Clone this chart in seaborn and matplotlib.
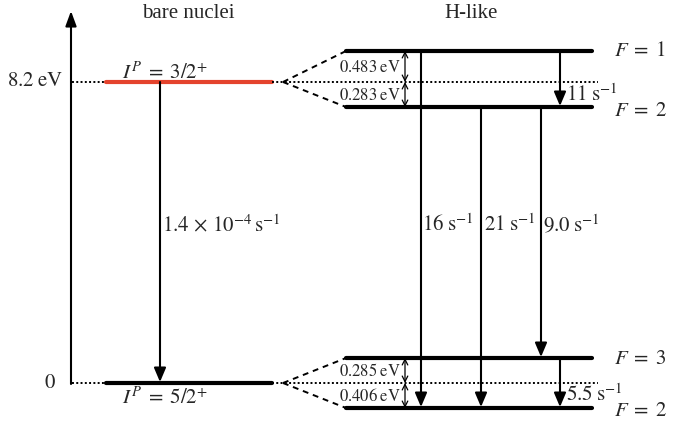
import matplotlib
matplotlib.use("Agg")
import matplotlib.pyplot as plt
import seaborn as sns
import pandas as pd

# ---- physics content -------------------------------------------------------
bare_spins = [r"$I^P\;=\;3/2^{+}$", r"$I^P\;=\;5/2^{+}$"]
bare_energy_labels = [r"$8.2\;\mathrm{eV}$", r"$0$"]
bare_rate_label = r"$1.4\,\times\,10^{-4}\,\mathrm{s}^{-1}$"

hfs_F = [1, 2, 3, 2]                       # upper pair, lower pair
hfs_splitting = ["0.483", "0.283", "0.285", "0.406"]   # eV

# transitions between hyperfine levels: (from index, to index, rate in s^-1)
trans_from = [0, 1, 1, 0, 2]
trans_to = [3, 3, 2, 1, 3]
trans_rate = ["16", "21", "9.0", "11", "5.5"]

# ---- layout (drawing coordinates) -----------------------------------------
W, H = 697, 421
bare_y = [82, 383]                  # centroid rows (excited, ground)
hfs_y = [51, 107, 358, 408]         # F levels
bare_x = (106, 272)
hfs_x = (346, 592)
trans_x = [421, 481, 541, 560, 560]
rate_pos = [(422, 225), (484, 225), (543, 225), (566, 95), (566, 395)]

sns.set_theme(style="white")
plt.rcParams["font.family"] = ["Liberation Serif", "DejaVu Serif"]
plt.rcParams["mathtext.fontset"] = "stix"

fig = plt.figure(figsize=(W / 100, H / 100), dpi=100)
ax = fig.add_axes([0, 0, 1, 1])

# energy level bars
rows = []
for i, y in enumerate(bare_y):
    kind = "excited" if i == 0 else "ground"
    for x in bare_x:
        rows.append(dict(level=f"bare{i}", kind=kind, x=x, y=y))
for i, y in enumerate(hfs_y):
    for x in hfs_x:
        rows.append(dict(level=f"hfs{i}", kind="ground", x=x, y=y))
levels = pd.DataFrame(rows)
sns.lineplot(data=levels, x="x", y="y", units="level", hue="kind",
             palette={"excited": "#e4432d", "ground": "black"},
             estimator=None, sort=False, lw=3.0, legend=False, ax=ax)
ax.set_xlim(0, W)
ax.set_ylim(H, 0)
ax.axis("off")

FS = 15
FS_SMALL = 12

ARROW = dict(arrowstyle="-|>,head_length=0.85,head_width=0.36",
             lw=1.5, color="black", shrinkA=0, shrinkB=0, mutation_scale=10)

# vertical energy axis
ax.annotate("", xy=(71, 11), xytext=(71, 384),
            arrowprops=dict(ARROW, arrowstyle="-|>,head_length=0.9,head_width=0.33"))
ax.text(188, 13, "bare nuclei", fontsize=FS, ha="center", va="center")
ax.text(471, 13, "H-like", fontsize=FS, ha="center", va="center")

# bare-nucleus levels
for y, elab, xr in zip(bare_y, bare_energy_labels, (63, 56)):
    ax.plot([72, bare_x[0]], [y, y], ls=(0, (1, 1.2)), lw=1.4, color="black")
    ax.text(xr, y, elab, fontsize=FS, ha="right", va="center")
ax.text(165, 79, bare_spins[0], fontsize=FS, ha="center", va="baseline")
ax.text(165, 398, bare_spins[1], fontsize=FS, ha="center", va="center")

ax.annotate("", xy=(160, bare_y[1] - 1), xytext=(160, bare_y[0]),
            arrowprops=ARROW)
ax.text(162, 226, bare_rate_label, fontsize=FS, ha="left", va="center")

# hyperfine splitting: dotted centroid lines and dashed fan-out
for yc, (ya, yb) in zip(bare_y, [(hfs_y[0], hfs_y[1]), (hfs_y[2], hfs_y[3])]):
    ax.plot([bare_x[1], 598], [yc, yc], ls=(0, (1, 1.2)), lw=1.4, color="black")
    for yt in (ya, yb):
        ax.plot([283, hfs_x[0]], [yc, yt], ls=(0, (3, 2.5)), lw=1.4,
                color="black")

# splitting size markers
pairs = [(hfs_y[0], bare_y[0]), (bare_y[0], hfs_y[1]),
         (hfs_y[2], bare_y[1]), (bare_y[1], hfs_y[3])]
for (y0, y1), lab in zip(pairs, hfs_splitting):
    ax.annotate("", xy=(405, y1), xytext=(405, y0),
                arrowprops=dict(arrowstyle="<->,head_length=0.4,head_width=0.2",
                                lw=0.9, color="black", shrinkA=0, shrinkB=0,
                                mutation_scale=10))
    ax.text(401, (y0 + y1) / 2 + 1, rf"${lab}\;\mathrm{{eV}}$",
            fontsize=FS_SMALL, ha="right", va="center")

# F labels
f_label_y = [51, 111, 359, 411]
for F, y in zip(hfs_F, f_label_y):
    ax.text(614, y, rf"$F\;=\;{F}$", fontsize=FS, ha="left", va="center")

# radiative transitions
for f, t, lab, x, (tx, ty) in zip(trans_from, trans_to, trans_rate,
                                  trans_x, rate_pos):
    ax.annotate("", xy=(x, hfs_y[t] - 1), xytext=(x, hfs_y[f]),
                arrowprops=ARROW)
    ax.text(tx, ty, rf"${lab}\;\mathrm{{s}}^{{-1}}$", fontsize=FS,
            ha="left", va="center")

fig.savefig("out.png", dpi=100, facecolor="white")
